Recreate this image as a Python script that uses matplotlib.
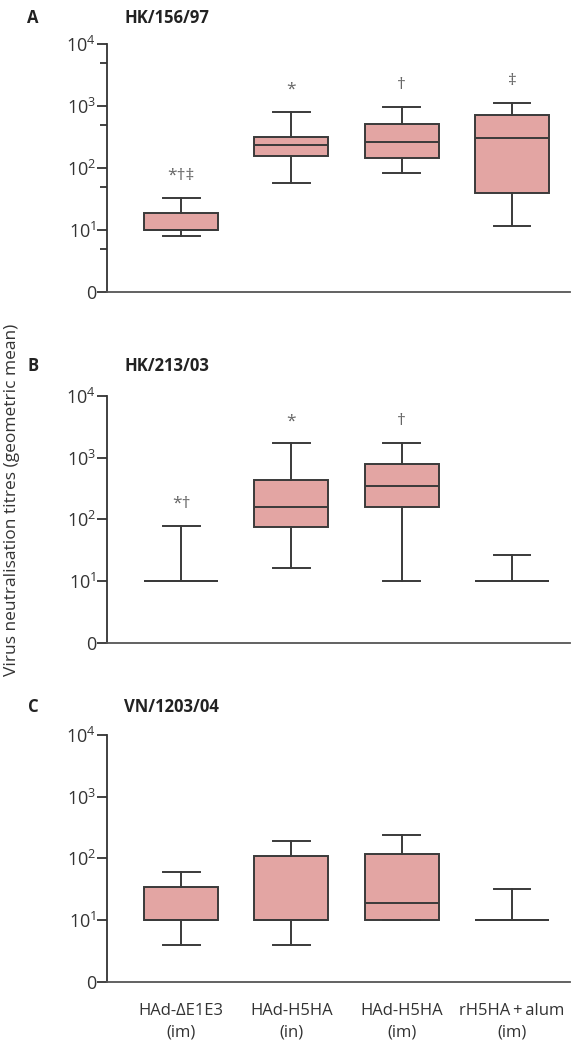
import matplotlib.pyplot as plt
from matplotlib.ticker import NullLocator

plt.rcParams['font.family'] = ['Open Sans', 'DejaVu Sans']
plt.rcParams['mathtext.default'] = 'regular'

groups = ['HAd-\u0394E1E3\n(im)', 'HAd-H5HA\n(in)', 'HAd-H5HA\n(im)', 'rH5HA\u2009+\u2009alum\n(im)']
positions = [1, 2, 3, 4]

# panel A - HK/156/97
a_whislo = [8, 57, 83, 11.6]
a_q1 = [10, 156, 145, 39]
a_med = [10, 232, 263, 308]
a_q3 = [18.8, 316, 504, 716]
a_whishi = [33, 800, 950, 1100]
a_marks = ['*\u2020\u2021', '*', '\u2020', '\u2021']

# panel B - HK/213/03
b_whislo = [10, 16.3, 10, 10]
b_q1 = [10, 74, 160, 10]
b_med = [10, 156, 351, 10]
b_q3 = [10, 438, 795, 10]
b_whishi = [77, 1700, 1730, 26.5]
b_marks = ['*\u2020', '*', '\u2020', '']

# panel C - VN/1203/04
c_whislo = [3.9, 3.9, 10, 10]
c_q1 = [10, 10, 10, 10]
c_med = [10, 10, 19, 10]
c_q3 = [34.6, 110, 117, 10]
c_whishi = [60, 193, 241, 31.8]
c_marks = ['', '', '', '']

yticks = [1, 10, 100, 1000, 10000]
yticklabels = ['0', '$10^1$', '$10^2$', '$10^3$', '$10^4$']

panels = [
    ('A', 'HK/156/97', a_whislo, a_q1, a_med, a_q3, a_whishi, a_marks, 0.7219, 0.2362, 0.9829),
    ('B', 'HK/213/03', b_whislo, b_q1, b_med, b_q3, b_whishi, b_marks, 0.3879, 0.2350, 0.6514),
    ('C', 'VN/1203/04', c_whislo, c_q1, c_med, c_q3, c_whishi, c_marks, 0.0650, 0.2350, 0.3267),
]

face = '#e3a5a3'
edge = '#3a3a3a'

fig = plt.figure(figsize=(5.79, 10.5), dpi=100)

for letter, title, lo, q1, med, q3, hi, marks, bottom, height, ty in panels:
    ax = fig.add_axes([0.1848, bottom, 0.7997, height])
    stats = []
    for i in range(len(positions)):
        stats.append({'whislo': lo[i], 'q1': q1[i], 'med': med[i],
                      'q3': q3[i], 'whishi': hi[i], 'fliers': []})
    ax.bxp(stats, positions=positions, widths=0.67, patch_artist=True,
           showfliers=False,
           boxprops=dict(facecolor=face, edgecolor=edge, linewidth=1.4),
           medianprops=dict(color=edge, linewidth=1.4),
           whiskerprops=dict(color=edge, linewidth=1.4),
           capprops=dict(color=edge, linewidth=1.4))
    for p, h, m in zip(positions, hi, marks):
        if m:
            ax.annotate(m, (p, h), xytext=(0, 16), textcoords='offset points',
                        ha='center', va='center', color='#666666', fontsize=12.5)

    ax.set_yscale('log')
    ax.set_ylim(1, 10000)
    ax.set_xlim(0.329, 4.526)
    ax.set_yticks(yticks)
    ax.set_yticklabels(yticklabels)
    if letter == 'A':
        ax.set_yticks([5, 50, 500, 5000], minor=True)
        ax.set_yticklabels(['', '', '', ''], minor=True)
    else:
        ax.yaxis.set_minor_locator(NullLocator())
    ax.tick_params(axis='y', which='major', length=7, width=1.3, color='#333333',
                   labelsize=13, labelcolor='#333333', pad=1)
    ax.tick_params(axis='y', which='minor', length=5, width=1.3, color='#333333')

    if letter == 'C':
        ax.set_xticks(positions)
        ax.set_xticklabels(groups, linespacing=1.5)
        ax.tick_params(axis='x', length=0, pad=15, labelsize=12, labelcolor='#333333')
    else:
        ax.set_xticks([])

    for s in ['top', 'right']:
        ax.spines[s].set_visible(False)
    ax.spines['left'].set_color('#333333')
    ax.spines['left'].set_linewidth(1.3)
    ax.spines['bottom'].set_color('#555555')
    ax.spines['bottom'].set_linewidth(1.3)

    fig.text(0.057, ty, letter, ha='center', va='center', fontsize=12,
             fontweight='bold', color='#222222')
    fig.text(0.2142, ty, title, ha='left', va='center', fontsize=12,
             fontweight='bold', color='#222222')

fig.text(0.021, 1 - 500 / 1050, 'Virus neutralisation titres (geometric mean)',
         rotation=90, ha='center', va='center', fontsize=12.5, color='#333333')

fig.savefig('out.png', dpi=100)
